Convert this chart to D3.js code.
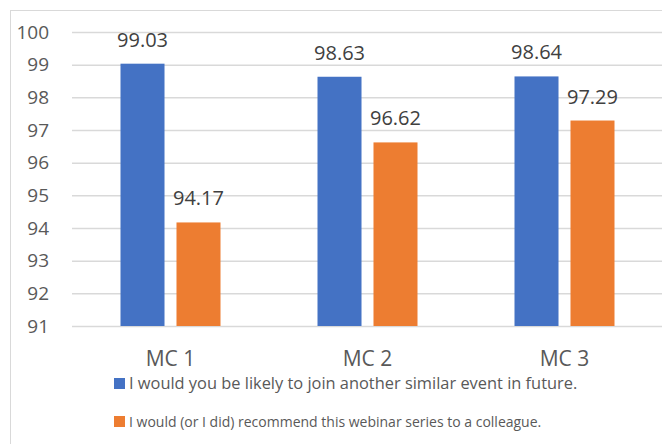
<!DOCTYPE html>
<html>
<head>
<meta charset="utf-8">
<script src="https://cdn.jsdelivr.net/npm/d3@7"></script>
<style>
  body { margin: 0; background: #fff; }
  text { font-family: "Open Sans", sans-serif; }
</style>
</head>
<body>
<svg id="chart"></svg>
<script>
const categories = ["MC 1", "MC 2", "MC 3"];
const seriesNames = [
  "I would you be likely to join another similar event in future.",
  "I would (or I did) recommend this webinar series to a colleague."
];
const joinValues = [99.03, 98.63, 98.64];
const recommendValues = [94.17, 96.62, 97.29];
const yTicks = [91, 92, 93, 94, 95, 96, 97, 98, 99, 100];
const colors = ["#4472C4", "#ED7D31"];

const width = 662, height = 444;

const svg = d3.select("#chart")
    .attr("width", width)
    .attr("height", height);

// chart area border (runs off the right and bottom edge)
svg.append("rect")
    .attr("x", 10.5).attr("y", 10.5)
    .attr("width", 700).attr("height", 480)
    .attr("fill", "#fff")
    .attr("stroke", "#d9d9d9");

const y = d3.scaleLinear()
    .domain([91, 100])
    .range([326, 32]);

const x0 = d3.scaleBand()
    .domain(categories)
    .range([72, 663])
    .paddingInner(97 / 197)
    .paddingOuter(97 / 394);

const x1 = d3.scaleBand()
    .domain([0, 1])
    .range([0, x0.bandwidth()])
    .paddingInner(0.214);

// gridlines + y labels
const yAxis = d3.axisLeft(y)
    .tickValues(yTicks)
    .tickSize(-(width - 72))
    .tickPadding(23)
    .tickFormat(d3.format("d"));

const gy = svg.append("g")
    .attr("transform", "translate(72,0)")
    .call(yAxis);
gy.select(".domain").remove();
gy.selectAll(".tick line")
    .attr("stroke", "#d9d9d9")
    .attr("stroke-width", 1.5);
gy.selectAll(".tick text")
    .attr("fill", "#595959")
    .style("font-size", "19px")
    .style("font-family", "'Open Sans', sans-serif");

const rows = categories.map((c, i) => ({ cat: c, vals: [joinValues[i], recommendValues[i]] }));

const groups = svg.selectAll("g.grp")
    .data(rows)
    .enter()
    .append("g")
    .attr("class", "grp")
    .attr("transform", d => "translate(" + x0(d.cat) + ",0)");

groups.selectAll("rect")
    .data(d => d.vals.map((v, k) => ({ v: v, k: k })))
    .enter()
    .append("rect")
    .attr("x", d => x1(d.k))
    .attr("y", d => y(d.v))
    .attr("width", x1.bandwidth())
    .attr("height", d => y(91) - y(d.v))
    .attr("fill", d => colors[d.k]);

groups.selectAll("text.val")
    .data(d => d.vals.map((v, k) => ({ v: v, k: k })))
    .enter()
    .append("text")
    .attr("class", "val")
    .attr("x", d => x1(d.k) + x1.bandwidth() / 2)
    .attr("y", d => y(d.v) - 17)
    .attr("text-anchor", "middle")
    .attr("fill", "#404040")
    .style("font-size", "20px")
    .text(d => d3.format(".2f")(d.v));

// category labels
const xAxis = d3.axisBottom(x0).tickSize(0).tickPadding(0);
const gx = svg.append("g")
    .attr("transform", "translate(0,326)")
    .call(xAxis);
gx.select(".domain").remove();
gx.selectAll(".tick text")
    .attr("y", 40)
    .attr("dy", 0)
    .attr("fill", "#595959")
    .style("font-size", "21px")
    .style("font-family", "'Open Sans', sans-serif");

// legend
const legendY = [378, 416];
const legendSize = [16.4, 14];
const legend = svg.selectAll("g.leg")
    .data(seriesNames)
    .enter()
    .append("g")
    .attr("class", "leg")
    .attr("transform", (d, i) => "translate(114," + legendY[i] + ")");

legend.append("rect")
    .attr("width", 11).attr("height", 11)
    .attr("fill", (d, i) => colors[i]);

legend.append("text")
    .attr("x", 15)
    .attr("y", 11)
    .attr("fill", "#595959")
    .style("font-size", (d, i) => legendSize[i] + "px")
    .text(d => d);
</script>
</body>
</html>
